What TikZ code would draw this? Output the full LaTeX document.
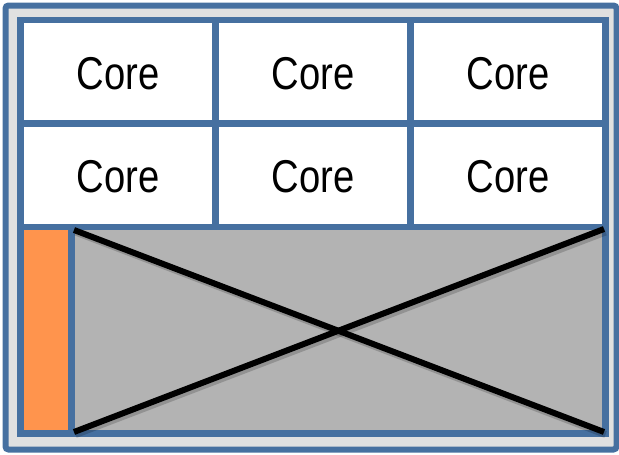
\documentclass[tikz,border=0pt]{standalone}
\usepackage{fontspec}
\setmainfont{Liberation Sans}
\newfontfamily\corefont[FakeStretch=0.83]{Liberation Sans}
\definecolor{frameblue}{RGB}{70,112,160}
\definecolor{shellgray}{RGB}{224,224,224}
\definecolor{baygray}{RGB}{179,179,179}
\definecolor{slotorange}{RGB}{255,148,77}
\begin{document}
\begin{tikzpicture}[x=1pt,y=-1pt,
  cell/.style={draw=frameblue, line width=6.5pt, fill=white, inner sep=0pt, outer sep=0pt,
    minimum width=195pt, minimum height=103.5pt},
  label/.style={font=\corefont\fontsize{46}{48}\selectfont, inner sep=0pt},
  block/.style={draw=frameblue, line width=6.5pt, inner sep=0pt, outer sep=0pt,
    minimum height=206.5pt},
  crossline/.style={black, line width=6pt},
  crossshadow/.style={black, opacity=0.18, line width=7pt}]
\useasboundingbox (0,0) rectangle (619,455);
% outer shell
\draw[frameblue, line width=6pt, fill=shellgray, rounded corners=3pt]
  (5.5,5.5) rectangle (616.5,449.5);
% grid of cores
\node[cell] (c11) at (118,71.75) {};
\node[cell] (c12) at (313,71.75) {};
\node[cell] (c13) at (508,71.75) {};
\node[cell] (c21) at (118,175.25) {};
\node[cell] (c22) at (313,175.25) {};
\node[cell] (c23) at (508,175.25) {};
\foreach \c in {c11,c12,c13,c21,c22,c23}
  \node[label] at ([yshift=-1.5pt]\c.center) {Core};
% bottom strip: orange slot and crossed-out area
\node[block, fill=slotorange, minimum width=51pt] (slot) at (46,330.25) {};
\node[block, fill=baygray, minimum width=534pt] (bay) at (338.5,330.25) {};
% cross with a soft shadow
\draw[crossshadow] ([shift={(4,5)}]bay.north west) -- ([shift={(0,1)}]bay.south east);
\draw[crossshadow] ([shift={(4,1)}]bay.south west) -- ([shift={(0,5)}]bay.north east);
\draw[crossline] ([shift={(2.5,3)}]bay.north west) -- ([shift={(-1.5,-1.5)}]bay.south east);
\draw[crossline] ([shift={(2.5,-1.5)}]bay.south west) -- ([shift={(-1.5,2)}]bay.north east);
\end{tikzpicture}
\end{document}
